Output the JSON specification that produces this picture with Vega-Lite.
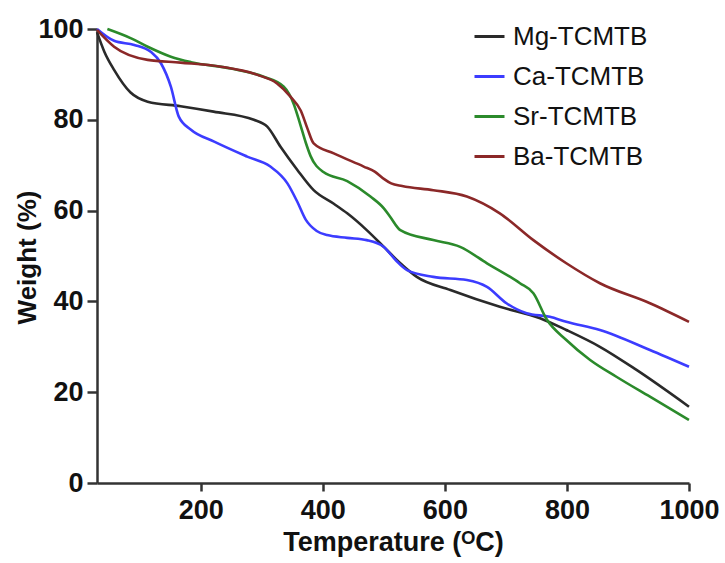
{
  "$schema": "https://vega.github.io/schema/vega-lite/v6.json",
  "autosize": {"type": "none"},
  "width": 592,
  "height": 454,
  "padding": {"left": 97, "top": 29, "right": 36, "bottom": 80},
  "background": "white",
  "config": {
    "view": {"stroke": null},
    "font": "Liberation Sans"
  },
  "datasets": {
    "tga": [
      {"sample": "Mg-TCMTB", "t": 30, "w": 99.3},
      {"sample": "Mg-TCMTB", "t": 42, "w": 95},
      {"sample": "Mg-TCMTB", "t": 58, "w": 91},
      {"sample": "Mg-TCMTB", "t": 85, "w": 86},
      {"sample": "Mg-TCMTB", "t": 113, "w": 84},
      {"sample": "Mg-TCMTB", "t": 167, "w": 83},
      {"sample": "Mg-TCMTB", "t": 221, "w": 81.8},
      {"sample": "Mg-TCMTB", "t": 287, "w": 80},
      {"sample": "Mg-TCMTB", "t": 309, "w": 78.5},
      {"sample": "Mg-TCMTB", "t": 331, "w": 74},
      {"sample": "Mg-TCMTB", "t": 358, "w": 69},
      {"sample": "Mg-TCMTB", "t": 385, "w": 64.5},
      {"sample": "Mg-TCMTB", "t": 418, "w": 61.5},
      {"sample": "Mg-TCMTB", "t": 440, "w": 59.4},
      {"sample": "Mg-TCMTB", "t": 472, "w": 55.7},
      {"sample": "Mg-TCMTB", "t": 500, "w": 52},
      {"sample": "Mg-TCMTB", "t": 527, "w": 48.4},
      {"sample": "Mg-TCMTB", "t": 554, "w": 45.4},
      {"sample": "Mg-TCMTB", "t": 609, "w": 42.5},
      {"sample": "Mg-TCMTB", "t": 690, "w": 38.8},
      {"sample": "Mg-TCMTB", "t": 756, "w": 36.3},
      {"sample": "Mg-TCMTB", "t": 799, "w": 33.7},
      {"sample": "Mg-TCMTB", "t": 854, "w": 30},
      {"sample": "Mg-TCMTB", "t": 914, "w": 24.9},
      {"sample": "Mg-TCMTB", "t": 1000, "w": 16.8},

      {"sample": "Ca-TCMTB", "t": 30, "w": 100},
      {"sample": "Ca-TCMTB", "t": 58, "w": 97.4},
      {"sample": "Ca-TCMTB", "t": 91, "w": 96.5},
      {"sample": "Ca-TCMTB", "t": 118, "w": 95},
      {"sample": "Ca-TCMTB", "t": 135, "w": 92.4},
      {"sample": "Ca-TCMTB", "t": 151, "w": 87.3},
      {"sample": "Ca-TCMTB", "t": 164, "w": 80.7},
      {"sample": "Ca-TCMTB", "t": 184, "w": 77.8},
      {"sample": "Ca-TCMTB", "t": 222, "w": 75.2},
      {"sample": "Ca-TCMTB", "t": 276, "w": 71.9},
      {"sample": "Ca-TCMTB", "t": 314, "w": 69.7},
      {"sample": "Ca-TCMTB", "t": 342, "w": 66},
      {"sample": "Ca-TCMTB", "t": 358, "w": 62},
      {"sample": "Ca-TCMTB", "t": 372, "w": 58},
      {"sample": "Ca-TCMTB", "t": 390, "w": 55.5},
      {"sample": "Ca-TCMTB", "t": 407, "w": 54.6},
      {"sample": "Ca-TCMTB", "t": 440, "w": 54},
      {"sample": "Ca-TCMTB", "t": 472, "w": 53.5},
      {"sample": "Ca-TCMTB", "t": 500, "w": 52},
      {"sample": "Ca-TCMTB", "t": 520, "w": 49},
      {"sample": "Ca-TCMTB", "t": 538, "w": 46.9},
      {"sample": "Ca-TCMTB", "t": 581, "w": 45.4},
      {"sample": "Ca-TCMTB", "t": 636, "w": 44.7},
      {"sample": "Ca-TCMTB", "t": 669, "w": 43.2},
      {"sample": "Ca-TCMTB", "t": 701, "w": 39.6},
      {"sample": "Ca-TCMTB", "t": 734, "w": 37.4},
      {"sample": "Ca-TCMTB", "t": 772, "w": 36.6},
      {"sample": "Ca-TCMTB", "t": 799, "w": 35.5},
      {"sample": "Ca-TCMTB", "t": 854, "w": 33.7},
      {"sample": "Ca-TCMTB", "t": 936, "w": 29.3},
      {"sample": "Ca-TCMTB", "t": 1000, "w": 25.6},

      {"sample": "Sr-TCMTB", "t": 47, "w": 100},
      {"sample": "Sr-TCMTB", "t": 85, "w": 98},
      {"sample": "Sr-TCMTB", "t": 113, "w": 96.1},
      {"sample": "Sr-TCMTB", "t": 151, "w": 93.9},
      {"sample": "Sr-TCMTB", "t": 184, "w": 92.7},
      {"sample": "Sr-TCMTB", "t": 249, "w": 91.3},
      {"sample": "Sr-TCMTB", "t": 303, "w": 89.5},
      {"sample": "Sr-TCMTB", "t": 336, "w": 87.3},
      {"sample": "Sr-TCMTB", "t": 352, "w": 83.6},
      {"sample": "Sr-TCMTB", "t": 363, "w": 79},
      {"sample": "Sr-TCMTB", "t": 372, "w": 75},
      {"sample": "Sr-TCMTB", "t": 380, "w": 72},
      {"sample": "Sr-TCMTB", "t": 401, "w": 68.5},
      {"sample": "Sr-TCMTB", "t": 440, "w": 66.5},
      {"sample": "Sr-TCMTB", "t": 478, "w": 63.1},
      {"sample": "Sr-TCMTB", "t": 500, "w": 60.5},
      {"sample": "Sr-TCMTB", "t": 510, "w": 58.7},
      {"sample": "Sr-TCMTB", "t": 527, "w": 55.7},
      {"sample": "Sr-TCMTB", "t": 581, "w": 53.5},
      {"sample": "Sr-TCMTB", "t": 625, "w": 52},
      {"sample": "Sr-TCMTB", "t": 669, "w": 48.4},
      {"sample": "Sr-TCMTB", "t": 723, "w": 44},
      {"sample": "Sr-TCMTB", "t": 745, "w": 41.8},
      {"sample": "Sr-TCMTB", "t": 767, "w": 36},
      {"sample": "Sr-TCMTB", "t": 799, "w": 31.5},
      {"sample": "Sr-TCMTB", "t": 838, "w": 27.1},
      {"sample": "Sr-TCMTB", "t": 881, "w": 23.4},
      {"sample": "Sr-TCMTB", "t": 936, "w": 19},
      {"sample": "Sr-TCMTB", "t": 1000, "w": 13.9},

      {"sample": "Ba-TCMTB", "t": 30, "w": 99.8},
      {"sample": "Ba-TCMTB", "t": 58, "w": 96.1},
      {"sample": "Ba-TCMTB", "t": 113, "w": 93.2},
      {"sample": "Ba-TCMTB", "t": 167, "w": 92.6},
      {"sample": "Ba-TCMTB", "t": 233, "w": 91.7},
      {"sample": "Ba-TCMTB", "t": 293, "w": 89.9},
      {"sample": "Ba-TCMTB", "t": 325, "w": 88},
      {"sample": "Ba-TCMTB", "t": 347, "w": 85.1},
      {"sample": "Ba-TCMTB", "t": 364, "w": 82},
      {"sample": "Ba-TCMTB", "t": 375, "w": 78},
      {"sample": "Ba-TCMTB", "t": 385, "w": 74.8},
      {"sample": "Ba-TCMTB", "t": 418, "w": 72.6},
      {"sample": "Ba-TCMTB", "t": 467, "w": 69.7},
      {"sample": "Ba-TCMTB", "t": 485, "w": 68.6},
      {"sample": "Ba-TCMTB", "t": 500, "w": 67},
      {"sample": "Ba-TCMTB", "t": 512, "w": 66},
      {"sample": "Ba-TCMTB", "t": 530, "w": 65.4},
      {"sample": "Ba-TCMTB", "t": 581, "w": 64.5},
      {"sample": "Ba-TCMTB", "t": 636, "w": 63.1},
      {"sample": "Ba-TCMTB", "t": 690, "w": 59.4},
      {"sample": "Ba-TCMTB", "t": 745, "w": 53.5},
      {"sample": "Ba-TCMTB", "t": 799, "w": 48.4},
      {"sample": "Ba-TCMTB", "t": 854, "w": 44},
      {"sample": "Ba-TCMTB", "t": 936, "w": 39.6},
      {"sample": "Ba-TCMTB", "t": 1000, "w": 35.5}
    ]
  },
  "data": {"name": "tga"},
  "mark": {"type": "line", "interpolate": "monotone", "strokeWidth": 2.6, "clip": false},
  "encoding": {
    "x": {
      "field": "t",
      "type": "quantitative",
      "scale": {"domain": [30, 1000], "nice": false, "zero": false},
      "axis": {
        "title": "Temperature (ᴼC)",
        "values": [200, 400, 600, 800, 1000],
        "format": "d",
        "grid": false,
        "domainColor": "#333333",
        "domainWidth": 2.5,
        "tickColor": "#333333",
        "tickWidth": 2.5,
        "tickSize": 8,
        "labelFont": "Liberation Sans",
        "labelFontWeight": "bold",
        "labelFontSize": 27,
        "labelColor": "#111111",
        "labelPadding": 6,
        "labelFlush": false,
        "titleFont": "Liberation Sans",
        "titleFontWeight": "bold",
        "titleFontSize": 27,
        "titleColor": "#111111",
        "titleBaseline": "alphabetic",
        "titleY": 67
      }
    },
    "y": {
      "field": "w",
      "type": "quantitative",
      "scale": {"domain": [0, 100], "nice": false},
      "axis": {
        "title": "Weight (%)",
        "values": [0, 20, 40, 60, 80, 100],
        "grid": false,
        "domainColor": "#333333",
        "domainWidth": 2.5,
        "tickColor": "#333333",
        "tickWidth": 2.5,
        "tickSize": 10,
        "labelFont": "Liberation Sans",
        "labelFontWeight": "bold",
        "labelFontSize": 27,
        "labelColor": "#111111",
        "labelPadding": 4,
        "labelFlush": false,
        "titleFont": "Liberation Sans",
        "titleFontWeight": "bold",
        "titleFontSize": 26,
        "titleColor": "#111111",
        "titleBaseline": "alphabetic",
        "titleAngle": -90,
        "titleAlign": "center",
        "titleX": -62,
        "titleY": 228
      }
    },
    "color": {
      "field": "sample",
      "type": "nominal",
      "sort": ["Mg-TCMTB", "Ca-TCMTB", "Sr-TCMTB", "Ba-TCMTB"],
      "scale": {
        "domain": ["Mg-TCMTB", "Ca-TCMTB", "Sr-TCMTB", "Ba-TCMTB"],
        "range": ["#2a2a2a", "#3c3cff", "#2b8a2b", "#8b2828"]
      },
      "legend": {
        "title": null,
        "orient": "none",
        "legendX": 376,
        "legendY": -9,
        "padding": 0,
        "symbolType": "stroke",
        "symbolSize": 900,
        "symbolStrokeWidth": 3,
        "labelFont": "Liberation Sans",
        "labelFontSize": 26,
        "labelColor": "#111111",
        "labelOffset": 7,
        "rowPadding": 10
      }
    }
  }
}
